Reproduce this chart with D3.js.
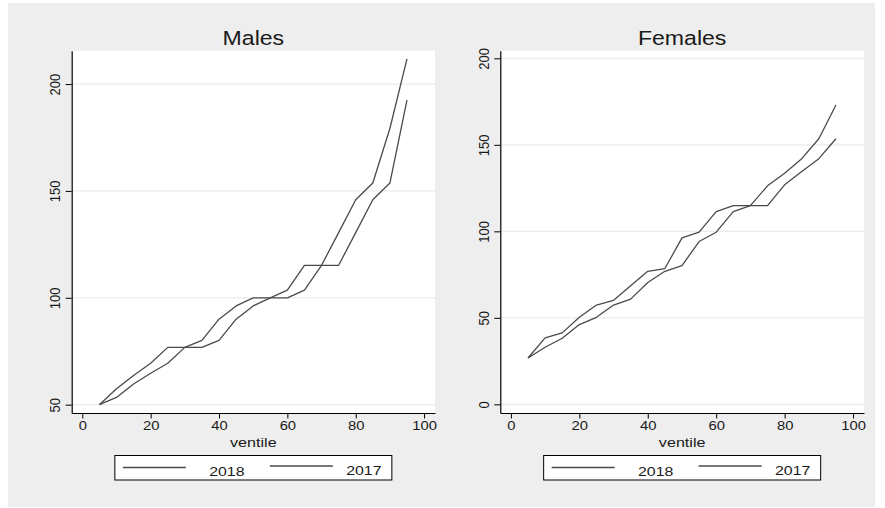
<!DOCTYPE html>
<html>
<head>
<meta charset="utf-8">
<script src="https://cdn.jsdelivr.net/npm/d3@7/dist/d3.min.js"></script>
<style>
  html, body { margin: 0; padding: 0; background: #ffffff; }
  svg { display: block; }
  text { font-family: "Liberation Sans", Arial, Helvetica, sans-serif; fill: #1a1a1a; }
</style>
</head>
<body>
<svg id="chart" width="885" height="508"></svg>
<script>
// Ventiles (5th, 10th, ... 95th percentile)
const ventiles = [5, 10, 15, 20, 25, 30, 35, 40, 45, 50, 55, 60, 65, 70, 75, 80, 85, 90, 95];

const males2018 = [50, 57.4, 63.6, 69.4, 76.8, 76.8, 80.1, 90, 96.2, 100, 100, 103.6, 115.2, 115.2, 130.5, 145.9, 153.7, 179.2, 211.8];
const males2017 = [50, 53.4, 59.7, 64.7, 69.4, 76.8, 76.8, 80.1, 90, 96.2, 100, 100, 103.6, 115.2, 115.2, 130.5, 145.9, 153.7, 192.5];

const females2018 = [26.8, 38.4, 41.3, 50.3, 57.4, 60.1, 68.5, 76.9, 78.5, 96.2, 99.5, 111.4, 114.9, 114.9, 126.3, 133.6, 142, 153.5, 173];
const females2017 = [26.8, 33, 38.2, 46.1, 50.3, 57.4, 60.8, 70.4, 76.9, 80.2, 94.1, 99.5, 111.4, 114.9, 114.9, 126.9, 134.6, 142, 153.5];

const xTicks = [0, 20, 40, 60, 80, 100];
const malesYTicks = [50, 100, 150, 200];
const femalesYTicks = [0, 50, 100, 150, 200];
const seriesNames = ["2018", "2017"];
const xTitle = "ventile";

// Horizontal stretch applied to all lettering
const SX = 1.185;

const svg = d3.select("#chart");

// Graph region
svg.append("rect")
  .attr("x", 8).attr("y", 3)
  .attr("width", 867).attr("height", 504)
  .attr("fill", "#eeeeee");

const panels = [
  { title: "Males", s18: males2018, s17: males2017, yTicks: malesYTicks,
    yDomain: [46.1, 215.6], left: 71.7, right: 435 },
  { title: "Females", s18: females2018, s17: females2017, yTicks: femalesYTicks,
    yDomain: [-5.0, 204.4], left: 500.3, right: 864 }
];

const plotTop = 50.7, plotBottom = 413;

function stretchedText(g, x, y, str, size, anchor) {
  return g.append("text")
    .attr("transform", `translate(${x},${y}) scale(${SX},1)`)
    .attr("text-anchor", anchor || "middle")
    .style("font-size", size + "px")
    .text(str);
}

panels.forEach(p => {
  const g = svg.append("g");
  const x = d3.scaleLinear().domain([-3.1, 103.2]).range([p.left, p.right]);
  const y = d3.scaleLinear().domain(p.yDomain).range([plotBottom, plotTop]);
  const cx = (p.left + p.right) / 2;

  // Plot region
  g.append("rect")
    .attr("x", p.left).attr("y", plotTop)
    .attr("width", p.right - p.left).attr("height", plotBottom - plotTop)
    .attr("fill", "#ffffff");

  // Horizontal grid lines
  g.selectAll("line.grid").data(p.yTicks).join("line")
    .attr("class", "grid")
    .attr("x1", p.left).attr("x2", p.right)
    .attr("y1", d => y(d)).attr("y2", d => y(d))
    .attr("stroke", "#ebebeb").attr("stroke-width", 1.2);

  // Series lines
  const line = d3.line().x((d, i) => x(ventiles[i])).y(d => y(d));
  [p.s18, p.s17].forEach(s => {
    g.append("path")
      .datum(s)
      .attr("d", line)
      .attr("fill", "none")
      .attr("stroke", "#4a4a4a")
      .attr("stroke-width", 1.3)
      .attr("stroke-linejoin", "round");
  });

  // X axis
  const xAxis = g.append("g")
    .attr("transform", `translate(0,${plotBottom})`)
    .call(d3.axisBottom(x).tickValues(xTicks).tickSize(5.5).tickSizeOuter(0).tickPadding(3));
  xAxis.select(".domain").attr("stroke", "#000").attr("stroke-width", 1.2);
  xAxis.selectAll(".tick line").attr("stroke", "#000").attr("stroke-width", 1);
  xAxis.selectAll(".tick text")
    .attr("fill", "#1a1a1a")
    .style("font-size", "12.5px")
    .style("font-family", '"Liberation Sans", Arial, sans-serif')
    .attr("transform", `scale(${SX},1)`);

  // Y axis
  const yAxis = g.append("g")
    .attr("transform", `translate(${p.left},0)`)
    .call(d3.axisLeft(y).tickValues(p.yTicks).tickSize(6).tickSizeOuter(0).tickPadding(0));
  yAxis.select(".domain").attr("stroke", "#000").attr("stroke-width", 1.2);
  yAxis.selectAll(".tick line").attr("stroke", "#000").attr("stroke-width", 1);
  yAxis.selectAll(".tick text")
    .attr("x", null).attr("dy", null)
    .attr("text-anchor", "middle")
    .attr("fill", "#1a1a1a")
    .style("font-size", "13px")
    .style("font-family", '"Liberation Sans", Arial, sans-serif')
    .attr("transform", `translate(-11.5,0) scale(${SX},1) rotate(-90)`);

  // Panel title
  stretchedText(g, cx, 45, p.title, 19.5);

  // Axis title
  stretchedText(g, cx, 446.5, xTitle, 13.6);

  // Legend
  const lw = 277, lx = cx - lw / 2, ly = 455.5;
  const leg = g.append("g").attr("transform", `translate(${lx},${ly})`);
  leg.append("rect")
    .attr("width", lw).attr("height", 24.5)
    .attr("fill", "#ffffff").attr("stroke", "#000").attr("stroke-width", 1);
  const entries = [
    { name: seriesNames[0], x0: 8, x1: 71, ty: 20, tx: 112, ly: 12 },
    { name: seriesNames[1], x0: 155, x1: 218, ty: 19, tx: 249, ly: 10.5 }
  ];
  entries.forEach(e => {
    leg.append("line")
      .attr("x1", e.x0).attr("x2", e.x1)
      .attr("y1", e.ly).attr("y2", e.ly)
      .attr("stroke", "#4a4a4a").attr("stroke-width", 1.3);
    stretchedText(leg, e.tx, e.ty, e.name, 13.4);
  });
});
</script>
</body>
</html>
